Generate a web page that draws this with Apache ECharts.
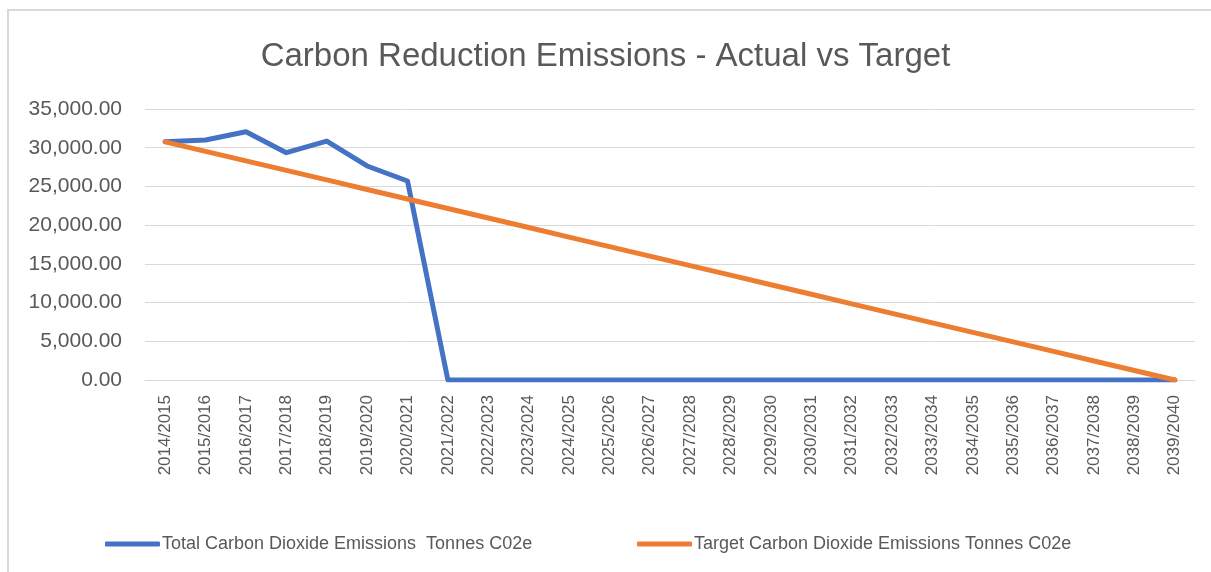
<!DOCTYPE html>
<html>
<head>
<meta charset="utf-8">
<script src="https://cdn.jsdelivr.net/npm/echarts@6/dist/echarts.min.js"></script>
<style>
html,body{margin:0;padding:0;background:#fff;}
#chart{width:1211px;height:572px;}
</style>
</head>
<body>
<div id="chart"></div>
<script>
const categories = ["2014/2015","2015/2016","2016/2017","2017/2018","2018/2019","2019/2020","2020/2021","2021/2022","2022/2023","2023/2024","2024/2025","2025/2026","2026/2027","2027/2028","2028/2029","2029/2030","2030/2031","2031/2032","2032/2033","2033/2034","2034/2035","2035/2036","2036/2037","2037/2038","2038/2039","2039/2040"];
const actualValues = [30760,30990,32070,29360,30860,27640,25700,0,0,0,0,0,0,0,0,0,0,0,0,0,0,0,0,0,0,0];
const targetValues = [30760,29530,28300,27070,25840,24610,23380,22150,20920,19690,18460,17230,16000,14770,13540,12300,11070,9840,8610,7380,6150,4920,3690,2460,1230,0];
const seriesNames = ["Total Carbon Dioxide Emissions  Tonnes C02e","Target Carbon Dioxide Emissions Tonnes C02e"];
const titleText = "Carbon Reduction Emissions - Actual vs Target";

const FONT = "'Liberation Sans', Arial, sans-serif";
const legendBase = {top:530,itemWidth:55,itemHeight:5,icon:'roundRect',
  textStyle:{fontFamily:FONT,fontSize:18,color:'#595959',padding:[0,0,0,-3]}};
const chart = echarts.init(document.getElementById('chart'), null, {renderer:'canvas'});
chart.setOption({
  animation:false,
  backgroundColor:'#fff',
  graphic:[{type:'rect',shape:{x:8,y:10,width:1300,height:700},style:{fill:'none',stroke:'#d9d9d9',lineWidth:2},silent:true,z:-1}],
  title:{text:titleText,left:'center',top:35,textStyle:{fontFamily:FONT,fontSize:33,fontWeight:'normal',color:'#595959'}},
  legend:[
    Object.assign({left:100,data:[seriesNames[0]]},legendBase),
    Object.assign({left:632,data:[seriesNames[1]]},legendBase)
  ],
  grid:{left:145,right:16,top:109,bottom:192,containLabel:false},
  xAxis:{type:'category',data:categories,boundaryGap:true,
    axisLine:{show:true,lineStyle:{color:'#d9d9d9',width:1}},axisTick:{show:false},
    axisLabel:{rotate:90,interval:0,margin:15,fontFamily:FONT,fontSize:17,color:'#595959'}},
  yAxis:{type:'value',min:0,max:35000,interval:5000,
    axisLine:{show:false},axisTick:{show:false},
    splitLine:{lineStyle:{color:'#d9d9d9',width:1}},
    axisLabel:{margin:23,fontFamily:FONT,fontSize:21,color:'#595959',
      formatter:v=>v.toLocaleString('en-US',{minimumFractionDigits:2,maximumFractionDigits:2})}},
  series:[
    {name:seriesNames[0],type:'line',data:actualValues,symbol:'none',lineStyle:{color:'#4472C4',width:5,cap:'round',join:'round'},itemStyle:{color:'#4472C4'},z:2},
    {name:seriesNames[1],type:'line',data:targetValues,symbol:'none',lineStyle:{color:'#ED7D31',width:5,cap:'round',join:'round'},itemStyle:{color:'#ED7D31'},z:3}
  ]
});
</script>
</body>
</html>
